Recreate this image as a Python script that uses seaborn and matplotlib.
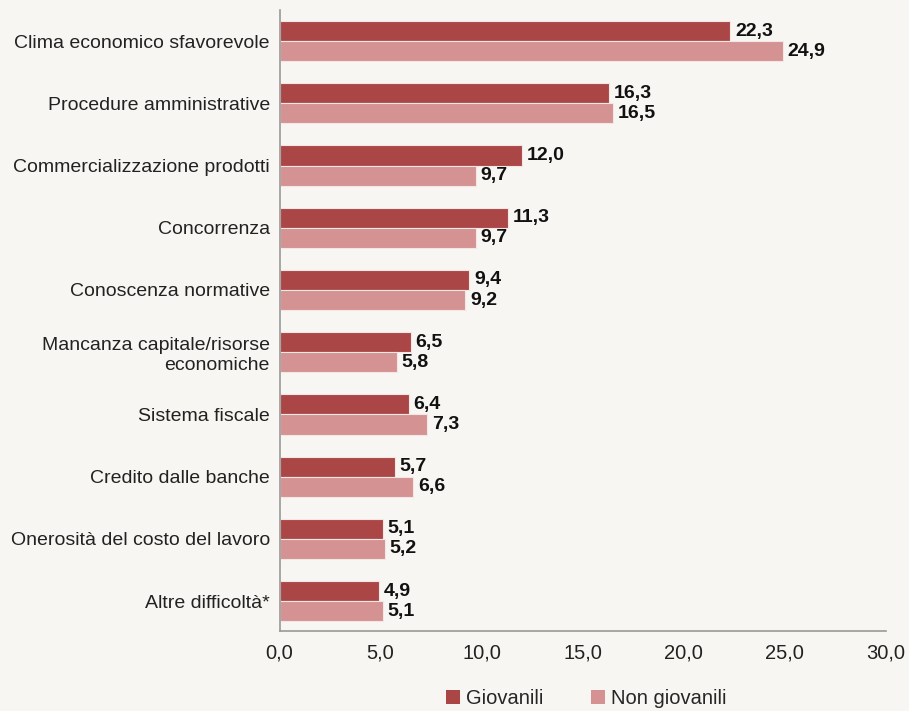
import matplotlib
matplotlib.use("Agg")
import matplotlib.pyplot as plt
import seaborn as sns
import pandas as pd
from matplotlib.patches import Patch

categories = ["Clima economico sfavorevole", "Procedure amministrative",
              "Commercializzazione prodotti", "Concorrenza", "Conoscenza normative",
              "Mancanza capitale/risorse\neconomiche", "Sistema fiscale",
              "Credito dalle banche", "Onerosità del costo del lavoro", "Altre difficoltà*"]
giovanili = [22.3, 16.3, 12.0, 11.3, 9.4, 6.5, 6.4, 5.7, 5.1, 4.9]
non_giovanili = [24.9, 16.5, 9.7, 9.7, 9.2, 5.8, 7.3, 6.6, 5.2, 5.1]
series = ["Giovanili", "Non giovanili"]
xticks = [0, 5, 10, 15, 20, 25, 30]

df = pd.DataFrame({
    "cat": categories * 2,
    "val": giovanili + non_giovanili,
    "serie": [series[0]] * len(categories) + [series[1]] * len(categories),
})

bg = "#F7F6F2"
colors = ["#AA4646", "#D49292"]
sns.set_theme(style="white")
plt.rcParams["font.family"] = ["Liberation Sans", "DejaVu Sans"]

fig = plt.figure(figsize=(9.09, 7.11), dpi=100, facecolor=bg)
ax = fig.add_axes([0.3075, 0.1125, 0.667, 0.8735], facecolor=bg)
sns.barplot(data=df, x="val", y="cat", hue="serie", palette=colors, orient="h",
            width=0.645, saturation=1, ax=ax, edgecolor="#F3E6E4", linewidth=0.8,
            legend=False)

for cont in ax.containers:
    ax.bar_label(cont, labels=[f"{v:.1f}".replace(".", ",") for v in cont.datavalues],
                 padding=3.5, fontsize=14, fontweight="bold", color="#111111")

ax.set_xlim(0, 30)
ax.set_ylim(9.48, -0.5)
ax.set_xticks(xticks)
ax.set_xticklabels([f"{t:.1f}".replace(".", ",") for t in xticks], fontsize=14.5, color="#222222")
ax.tick_params(axis="x", direction="out", length=5, width=1, color="#999999", pad=4)
ax.tick_params(axis="y", length=0, pad=7, labelsize=14, labelcolor="#222222")
ax.set_xlabel("")
ax.set_ylabel("")
for s in ["top", "right"]:
    ax.spines[s].set_visible(False)
for s in ["left", "bottom"]:
    ax.spines[s].set_color("#999999")
    ax.spines[s].set_linewidth(1.2)

handles = [Patch(facecolor=c, edgecolor="none") for c in colors]
fig.legend(handles, series, loc="center", bbox_to_anchor=(0.645, 0.018), ncol=2,
           frameon=False, fontsize=14.5, handlelength=0.68, handleheight=0.68,
           handletextpad=0.3, columnspacing=2.35)

fig.savefig("out.png", dpi=100, facecolor=bg)
